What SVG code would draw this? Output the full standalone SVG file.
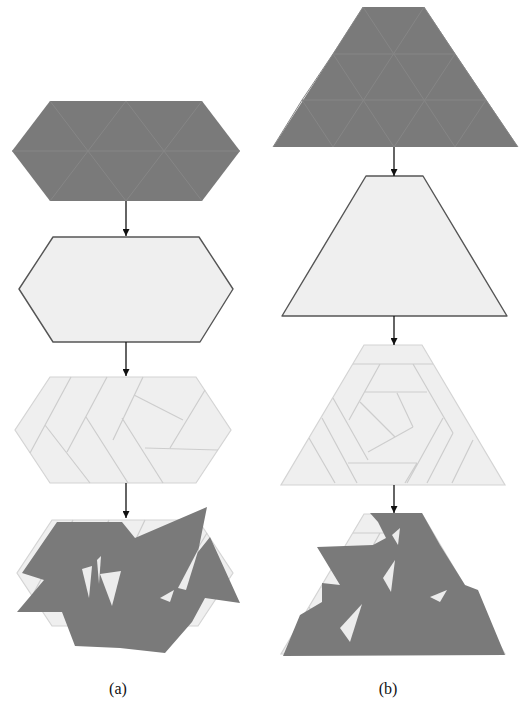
<svg xmlns="http://www.w3.org/2000/svg" xmlns:xlink="http://www.w3.org/1999/xlink" width="519" height="702" viewBox="0 0 519 702">
<style>
.dark{fill:#7a7a7a;stroke:none}
.grid{fill:none;stroke:#868686;stroke-width:1}
.plain{fill:#efefef;stroke:#555;stroke-width:1.4;stroke-linejoin:round}
.tiled{fill:#efefef;stroke:#d4d4d4;stroke-width:1.2}
.tl{fill:none;stroke:#cdcdcd;stroke-width:1.2}
.conn{stroke:#111;stroke-width:1.3;fill:none;marker-end:url(#ah)}
.lbl{font-family:"Liberation Serif","Times New Roman",serif;font-size:16px;fill:#111}
.gap{fill:#ececec}
</style>
<defs>
<marker id="ah" viewBox="0 0 10 10" refX="10" refY="5" markerWidth="7" markerHeight="7" markerUnits="userSpaceOnUse" orient="auto">
<path d="M0,0 L10,5 L0,10 z" fill="#111"/>
</marker>
<g id="hexTiles">
<polygon class="tiled" points="50,377 196,377 231,430 196,483 50,483 15,430"/>
<path class="tl" d="M71,377 L30,453 M45,425 L90,483 M107,377 L67,452 M86,417 L128,483 M143,377 L113,440 M122,418 L163,483 M134,395 L183,420 M205,390 L170,448 M145,448 L218,450"/>
</g>
<g id="trapTiles">
<polygon class="tiled" points="364,345 422,345 505,485 281,485"/>
<path class="tl" d="M353,364 L433,364 M380,364 L349,420 M413,364 L453,433 M365,392 L427,392 M333,398 L368,460 M360,402 L395,437 M413,427 L368,452 M397,393 L413,427 M322,418 L357,483 M309,438 L335,483 M348,463 L417,463 M417,463 L405,483 M453,433 L427,483 M443,418 L407,483 M473,440 L452,483"/>
</g>
</defs>

<g id="a1">
<polygon class="dark" points="50,101 202,101 240,151 202,201 50,201 12,151"/>
<path class="grid" d="M12,151 L240,151 M50,101 L126,201 M126,101 L202,201 M126,101 L50,201 M202,101 L126,201"/>
</g>
<g id="a2">
<polygon class="plain" points="53,237 199,237 233,289 200,342 53,342 19,289"/>
</g>
<g id="a3">
<use xlink:href="#hexTiles"/>
</g>
<g id="a4">
<use xlink:href="#hexTiles" transform="translate(2,143)"/>
<polygon class="dark" points="57,522 122,522 135,538 207,507 198,552 210,537 240,603 205,598 192,622 165,653 120,648 75,646 62,612 17,612 44,580 22,573"/>
<polygon class="gap" points="100,574 121,571 112,606"/>
<polygon class="gap" points="82,569 92,566 89,598"/>
<polygon class="gap" points="97,560 101,556 99,584"/>
<polygon class="gap" points="178,588 199,548 186,590"/>
<polygon class="gap" points="160,598 174,590 170,602"/>
</g>

<g id="b1">
<polygon class="dark" points="363,7 424,7 518,147 273,147"/>
<path class="grid" d="M333,54 L455,54 M302,100 L486,100 M363,7 L455,147 M424,7 L333,147 M363,7 L333,54 M424,7 L455,54 M333,54 L394,147 M455,54 L394,147 M333,54 L302,100 M455,54 L486,100 M302,100 L333,147 M486,100 L455,147 M302,100 L273,147 M486,100 L518,147"/>
</g>
<g id="b2">
<polygon class="plain" points="366,176 423,176 507,316 282,316"/>
</g>
<g id="b3">
<use xlink:href="#trapTiles"/>
</g>
<g id="b4">
<use xlink:href="#trapTiles" transform="translate(0,169)"/>
<polygon class="dark" points="370,513 422,513 440,545 465,585 478,590 505,655 283,656 300,615 322,602 322,583 340,585 317,547 373,545 386,538 378,522"/>
<polygon class="gap" points="383,578 395,560 391,592"/>
<polygon class="gap" points="340,628 362,604 350,642"/>
<polygon class="gap" points="392,535 400,528 398,545"/>
<polygon class="gap" points="430,597 447,590 440,602"/>
</g>

<g id="connectors">
<line class="conn" x1="126" y1="201" x2="126" y2="236"/>
<line class="conn" x1="126" y1="342" x2="126" y2="376"/>
<line class="conn" x1="126" y1="483" x2="126" y2="518"/>
<line class="conn" x1="394" y1="147" x2="394" y2="176"/>
<line class="conn" x1="394" y1="316" x2="394" y2="345"/>
<line class="conn" x1="394" y1="485" x2="394" y2="513"/>
</g>

<text class="lbl" x="118" y="694" text-anchor="middle">(a)</text>
<text class="lbl" x="388" y="694" text-anchor="middle">(b)</text>
</svg>
